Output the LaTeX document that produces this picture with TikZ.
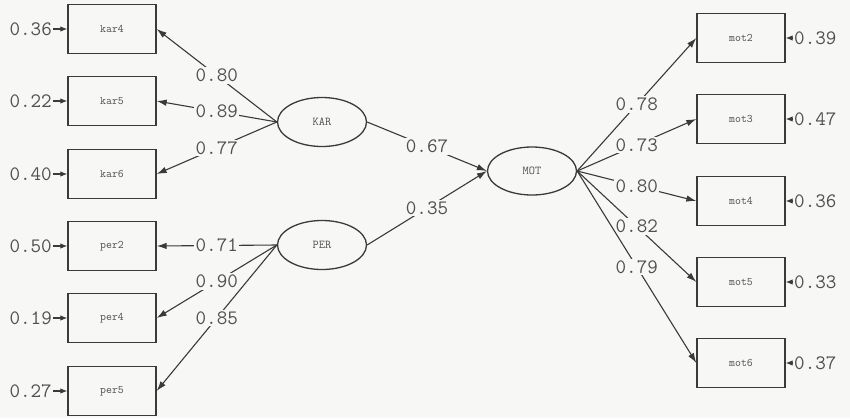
\documentclass[tikz,border=0pt]{standalone}
\usepackage{fontspec}
\usetikzlibrary{arrows.meta,shapes.geometric}
\definecolor{bg}{HTML}{F7F7F5}
\definecolor{ink}{HTML}{3A3A3A}
\definecolor{txt}{HTML}{505050}
\tikzset{
  obsbox/.style={draw=ink, line width=1.3pt, minimum width=88pt, minimum height=49pt, inner sep=0pt, font=\ttfamily\fontsize{11.5}{12}\selectfont, text=txt},
  latent/.style={ellipse, draw=ink, line width=1.3pt, minimum width=89pt, minimum height=49pt, inner sep=0pt, font=\ttfamily\fontsize{12}{12}\selectfont, text=txt},
  coef/.style={fill=bg, inner sep=1.5pt, font=\ttfamily\fontsize{20.5}{22}\selectfont, text=txt},
  errlbl/.style={inner sep=1pt, font=\ttfamily\fontsize{20.5}{22}\selectfont, text=txt},
  link/.style={draw=ink, line width=1.1pt, -{Latex[length=10pt,width=6.5pt]}},
  errlink/.style={draw=ink, line width=1.1pt, -{Latex[length=7pt,width=5.5pt]}}
}
\begin{document}
\begin{tikzpicture}[x=1pt,y=-1pt]
\fill[bg] (0,0) rectangle (850,418);
\useasboundingbox (0,0) rectangle (850,418);
% observed left
\node[obsbox] (kar4) at (112,29) {kar4};
\node[obsbox] (kar5) at (112,101) {kar5};
\node[obsbox] (kar6) at (112,174) {kar6};
\node[obsbox] (per2) at (112,246) {per2};
\node[obsbox] (per4) at (112,318) {per4};
\node[obsbox] (per5) at (112,391) {per5};
% latent
\node[latent] (KAR) at (322,122) {KAR};
\node[latent] (PER) at (322,245) {PER};
\node[latent, minimum height=48pt] (MOT) at (532,171) {MOT};
% observed right
\node[obsbox] (mot2) at (741,38) {mot2};
\node[obsbox] (mot3) at (741,119) {mot3};
\node[obsbox] (mot4) at (741,201) {mot4};
\node[obsbox] (mot5) at (741,282) {mot5};
\node[obsbox] (mot6) at (741,363) {mot6};
% error labels left
\node[errlbl, anchor=east] (e1) at (53,29) {0.36};
\node[errlbl, anchor=east] (e2) at (53,101) {0.22};
\node[errlbl, anchor=east] (e3) at (53,174) {0.40};
\node[errlbl, anchor=east] (e4) at (53,246) {0.50};
\node[errlbl, anchor=east] (e5) at (53,318) {0.19};
\node[errlbl, anchor=east] (e6) at (53,391) {0.27};
\foreach \e/\b in {e1/kar4,e2/kar5,e3/kar6,e4/per2,e5/per4,e6/per5}
  \draw[errlink] (\e.east) -- (\b.west);
% error labels right
\node[errlbl, anchor=west] (r1) at (793,38) {0.39};
\node[errlbl, anchor=west] (r2) at (793,119) {0.47};
\node[errlbl, anchor=west] (r3) at (793,201) {0.36};
\node[errlbl, anchor=west] (r4) at (793,282) {0.33};
\node[errlbl, anchor=west] (r5) at (793,363) {0.37};
\foreach \e/\b in {r1/mot2,r2/mot3,r3/mot4,r4/mot5,r5/mot6}
  \draw[errlink] (\e.west) -- (\b.east);
% loadings KAR
\draw[link] (KAR.west) -- node[coef] {0.80} (kar4.east);
\draw[link] (KAR.west) -- node[coef] {0.89} (kar5.east);
\draw[link] (KAR.west) -- node[coef] {0.77} (kar6.east);
% loadings PER
\draw[link] (PER.west) -- node[coef] {0.71} (per2.east);
\draw[link] (PER.west) -- node[coef] {0.90} (per4.east);
\draw[link] (PER.west) -- node[coef] {0.85} (per5.east);
% structural
\draw[link] (KAR.east) -- node[coef] {0.67} (MOT.west);
\draw[link] (PER.east) -- node[coef] {0.35} (MOT.west);
% loadings MOT
\draw[link] (MOT.east) -- node[coef] {0.78} (mot2.west);
\draw[link] (MOT.east) -- node[coef] {0.73} (mot3.west);
\draw[link] (MOT.east) -- node[coef] {0.80} (mot4.west);
\draw[link] (MOT.east) -- node[coef] {0.82} (mot5.west);
\draw[link] (MOT.east) -- node[coef] {0.79} (mot6.west);
\end{tikzpicture}
\end{document}
